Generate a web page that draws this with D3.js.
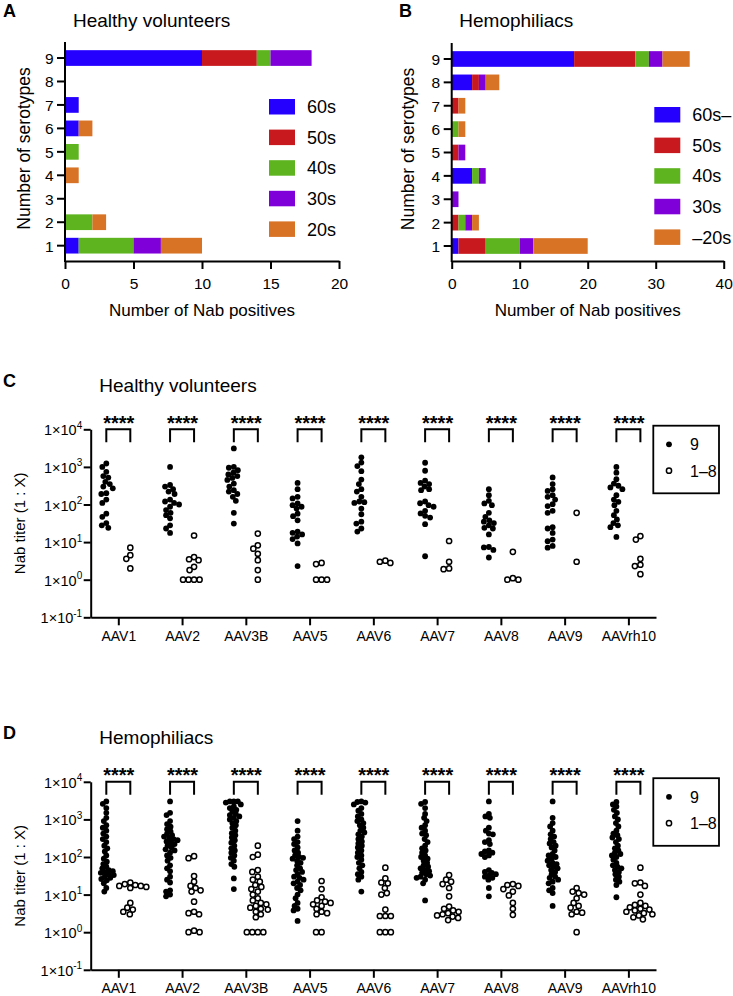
<!DOCTYPE html>
<html><head><meta charset="utf-8">
<script src="https://cdn.jsdelivr.net/npm/d3@7"></script>
<style>
body{margin:0;background:#fff;}
svg{display:block;font-family:"Liberation Sans",Arial,Helvetica,sans-serif;}
</style></head><body>
<svg id="chart" width="733" height="996"></svg>
<script>
// ---------------- DATA ----------------
const serotypeCounts = [1,2,3,4,5,6,7,8,9];
const ageKeys = ["a60","a50","a40","a30","a20"];
const ageLabelsHV = ["60s","50s","40s","30s","20s"];
const ageLabelsHM = ["60s–","50s","40s","30s","–20s"];
const ageColors = ["#2600ff","#c8191e","#5db41e","#8000da","#d87225"];
const xTicksA = [0,5,10,15,20];
const xTicksB = [0,10,20,30,40];

// Healthy volunteers: number of Nab positives by number of serotypes (index = 1..9)
const hv60s = [1,0,0,0,0,1,1,0,10];
const hv50s = [0,0,0,0,0,0,0,0,4];
const hv40s = [4,2,0,0,1,0,0,0,1];
const hv30s = [2,0,0,0,0,0,0,0,3];
const hv20s = [3,1,0,1,0,1,0,0,0];
// Hemophiliacs
const hm60s = [1,0,0,3,0,0,0,3,18];
const hm50s = [4,1,0,0,1,0,1,1,9];
const hm40s = [5,1,0,1,0,1,0,0,2];
const hm30s = [2,1,1,1,1,0,0,1,2];
const hm20s = [8,1,0,0,0,1,1,2,4];

const aavSerotypes = ["AAV1","AAV2","AAV3B","AAV5","AAV6","AAV7","AAV8","AAV9","AAVrh10"];
const titerTickExps = [-1,0,1,2,3,4];
const groupLabels = ["9","1–8"];

// Panel C: healthy volunteers, titers (1:X)
const hvNine = [
  [1230,1000,740,570,520,400,350,300,270,200,190,135,110,57,47,32,28,24],
  [1000,330,300,255,220,190,135,120,110,100,87,71,60,52,43,28,23,17.5],
  [3100,1000,950,820,700,630,570,510,450,360,300,240,220,190,160,125,60,31],
  [375,255,160,145,107,96,87,78,57,49,38,19,17.6,16,14,12,9.2,2.3],
  [1800,1300,1050,770,460,350,255,220,160,120,115,110,78,55,35,31,23,19],
  [1290,790,430,375,350,300,255,240,120,108,96,87,68,58,50,45,30,4.2],
  [255,177,125,107,96,60,47,38,35,32,28,24,23,16,7.4,7.2,6.2,3.9],
  [525,350,255,230,177,160,135,102,91,68,60,25,23,17.5,11.7,10.6,7.9,7.1],
  [1000,700,470,360,315,285,255,177,135,118,96,68,52,40,32,28,25,13.7]
];
const hvPartial = [
  [7.1,4.5,3.6,2.0],
  [15,4,3.5,3.3,2.2,1.8,1,1,1,1],
  [16.9,8.2,6.7,4.9,3.3,1.8,1],
  [2.8,2.6,1,1,1],
  [3.2,3.0,2.8],
  [10.7,3.0,2.0,1.9],
  [5.5,1.1,1,1],
  [60,3.0],
  [14.5,11.7,3.6,2.5,2.3,1.4]
];
// Panel D: hemophiliacs
const hmNine = [
  [3000,2600,2000,1500,1100,900,700,600,500,420,350,300,250,200,170,140,110,90,75,65,55,50,45,42,40,38,35,33,30,28,26,24,20,15,12],
  [3000,1500,1300,900,750,640,550,480,420,380,350,320,300,280,260,240,220,200,180,160,150,130,110,95,80,60,50,42,30,25,21,13,12,10,9],
  [3000,3000,3000,2800,2500,2200,2000,1800,1600,1400,1300,1200,1100,1000,900,800,700,600,500,430,380,330,280,240,200,170,150,130,110,95,80,65,55,27,14],
  [900,500,350,300,250,220,180,150,130,110,100,95,90,80,70,60,50,45,40,35,30,28,25,22,20,18,15,13,10,8,6,5,4.2,3.8,2],
  [3000,2900,2800,2500,2000,1700,1400,1200,1000,900,800,700,600,500,450,400,350,300,260,230,200,180,150,130,110,100,85,70,60,50,40,35,30,25,12],
  [2900,2600,2000,1400,1100,900,700,600,500,420,380,300,250,200,170,150,130,110,100,90,80,70,60,55,50,45,42,38,35,32,30,28,25,20,7],
  [3000,1400,1200,1100,600,500,420,400,280,250,220,150,140,130,120,110,100,45,40,38,35,32,30,28,25,15,9],
  [3000,1100,800,650,500,400,350,300,250,230,200,180,150,120,110,100,90,80,70,65,60,55,50,45,40,35,30,28,25,22,20,15,13,11,5],
  [2900,2500,2200,1800,1500,1200,1000,800,650,500,420,380,330,300,250,200,170,150,130,120,110,100,85,70,60,55,50,45,40,35,30,25,22,18,8.5]
];
const hmPartial = [
  [21,19,18,17,17,16,15,6,4.5,4,3.5,3],
  [105,93,31,22,17,15,13,12,6.5,3.5,3.2,3,1.1,1,1],
  [200,115,100,45,40,30,25,22,18,16,14,12,10,8,7,6,5.5,5,4.5,4.2,4,3.5,3,2.5,1,1,1,1],
  [23,14,8.5,7,6.5,6,5.5,5,4.2,3.5,3.2,3,1,1],
  [52,27,21,20,15,11,10,4,2.7,2.7,2.7,1,1,1],
  [33,25,22,19,15,9,4.8,4.2,3.8,3.5,3.2,3,2.8,2.6,2.4,2.1],
  [19,18,17,14,12,9.5,6,4.2,2.9],
  [15,12,11,10,8,6,5,4.5,3.5,3.3,3,1],
  [52,21,20,17,10,6,5.3,5,4.6,4.2,4,3.8,3.5,3.2,3,2.8,2.5,2.2]
];

// ---------------- DRAWING ----------------
const svg = d3.select("#chart");

function barPanel(cfg) {
  const g = svg.append("g");
  const rows = serotypeCounts.map((c, i) => {
    const r = {count: String(c)};
    cfg.series.forEach((s, k) => r[ageKeys[k]] = s[i]);
    return r;
  });
  const x = d3.scaleLinear().domain([0, cfg.xMax]).range([cfg.left, cfg.right]);
  const y = d3.scaleBand().domain(serotypeCounts.slice().reverse().map(String))
    .range([cfg.bandTop, cfg.bandBottom]).paddingInner(0.33).paddingOuter(0.165);
  const stacked = d3.stack().keys(ageKeys)(rows);
  stacked.forEach((layer, k) => {
    g.append("g").selectAll("rect").data(layer.filter(d => d[1] > d[0])).join("rect")
      .attr("x", d => x(d[0])).attr("width", d => x(d[1]) - x(d[0]))
      .attr("y", d => y(d.data.count)).attr("height", y.bandwidth())
      .attr("fill", ageColors[k]);
  });
  const xa = g.append("g").attr("transform", `translate(0,${cfg.axisY})`)
    .call(d3.axisBottom(x).tickValues(cfg.ticks).tickSize(8).tickSizeOuter(0));
  xa.select(".domain").attr("stroke-width", 2);
  xa.selectAll(".tick line").attr("stroke-width", 2);
  xa.selectAll(".tick text").attr("y", 27.5).attr("dy", null)
    .attr("font-size", 15.5).attr("fill", "#000").attr("font-family", null);
  const ya = g.append("g").attr("transform", `translate(${cfg.left},0)`)
    .call(d3.axisLeft(y).tickSize(8).tickSizeOuter(0));
  ya.select(".domain").remove();
  ya.selectAll(".tick line").attr("stroke-width", 2);
  ya.selectAll(".tick text").attr("x", -11.5).attr("dy", "0.38em")
    .attr("font-size", 15.5).attr("fill", "#000").attr("font-family", null);
  g.append("line").attr("x1", cfg.left).attr("x2", cfg.left)
    .attr("y1", cfg.axisTop).attr("y2", cfg.axisY + 1)
    .attr("stroke", "#000").attr("stroke-width", 2);
  g.append("text").attr("x", (cfg.left + cfg.right) / 2).attr("y", 315.5)
    .attr("text-anchor", "middle").attr("font-size", 17).text("Number of Nab positives");
  g.append("text").attr("transform", `translate(${cfg.yTitleX},${(cfg.axisTop + cfg.axisY) / 2 - 3}) rotate(-90)`)
    .attr("text-anchor", "middle").attr("font-size", 17.5).text("Number of serotypes");
  g.append("text").attr("x", cfg.titleX).attr("y", 26.5).attr("font-size", 19).text(cfg.title);
  g.append("text").attr("x", cfg.letterX).attr("y", 16.7).attr("font-size", 18)
    .attr("font-weight", "bold").text(cfg.letter);
  cfg.labels.forEach((lab, k) => {
    const top = cfg.legTop + k * 30.6;
    g.append("rect").attr("x", cfg.legX).attr("y", top).attr("width", 26).attr("height", 15.5)
      .attr("fill", ageColors[k]);
    g.append("text").attr("x", cfg.legX + 38).attr("y", top + 14.2).attr("font-size", 18).text(lab);
  });
}

barPanel({series: [hv60s, hv50s, hv40s, hv30s, hv20s], xMax: 20, ticks: xTicksA,
  left: 65, right: 339, bandTop: 46.3, bandBottom: 257.4, axisY: 261, axisTop: 42,
  yTitleX: 30, title: "Healthy volunteers", titleX: 73, letter: "A", letterX: 3,
  labels: ageLabelsHV, legX: 269, legTop: 99});
barPanel({series: [hm60s, hm50s, hm40s, hm30s, hm20s], xMax: 40, ticks: xTicksB,
  left: 451.7, right: 723.7, bandTop: 47.3, bandBottom: 257.7, axisY: 261, axisTop: 43,
  yTitleX: 413.5, title: "Hemophiliacs", titleX: 459.3, letter: "B", letterX: 399,
  labels: ageLabelsHM, legX: 654.3, legTop: 107});

// deterministic beeswarm layout (allows partial overlap like the original)
function swarm(values, yScale, cx, diam) {
  const pts = values.map(v => ({v, y: yScale(v)})).sort((a, b) => a.y - b.y);
  const placed = [];
  pts.forEach(p => {
    let px = cx;
    for (let k = 0; k < 400; k++) {
      const off = (k % 2 === 0 ? 1 : -1) * Math.ceil(k / 2) * 0.5;
      const xx = cx + off;
      if (placed.every(q => (q.x - xx) ** 2 + (q.y - p.y) ** 2 >= diam * diam)) { px = xx; break; }
    }
    p.x = px;
    placed.push(p);
  });
  return pts;
}

function dotPanel(off, nine, partial, title, letter, nineDiam) {
  const yTop = 429.3 + off, yBot = 617.3 + off;
  const g = svg.append("g");
  const y = d3.scaleLog().domain([0.1, 1e4]).range([yBot, yTop]);
  const x = d3.scalePoint().domain(aavSerotypes).range([90.7, 656]).padding(0.433);
  const ya = g.append("g").attr("transform", "translate(90.7,0)")
    .call(d3.axisLeft(y).tickValues(titerTickExps.map(e => Math.pow(10, e)))
      .tickSize(7).tickSizeOuter(0).tickFormat(() => ""));
  ya.select(".domain").attr("stroke-width", 2);
  ya.selectAll(".tick line").attr("stroke-width", 2);
  ya.selectAll(".tick").each(function(d, i) {
    const t = d3.select(this).select("text").attr("x", -8.5).attr("dy", null).attr("y", 5.5)
      .attr("font-size", 14.5).attr("fill", "#000").attr("font-family", null).text(null);
    t.append("tspan").text("1×10");
    t.append("tspan").attr("dy", -6.5).attr("font-size", 10).text(String(titerTickExps[i]));
  });
  const xa = g.append("g").attr("transform", `translate(0,${yBot})`)
    .call(d3.axisBottom(x).tickSize(8).tickSizeOuter(0));
  xa.select(".domain").attr("stroke-width", 2);
  xa.selectAll(".tick line").attr("stroke-width", 2);
  xa.selectAll(".tick text").attr("y", 23.5).attr("dy", null)
    .attr("font-size", 14).attr("fill", "#000").attr("font-family", null);
  aavSerotypes.forEach((s, i) => {
    const cx = x(s);
    swarm(nine[i], y, cx - 12, nineDiam).forEach(p => {
      g.append("circle").attr("cx", p.x).attr("cy", p.y).attr("r", 2.9).attr("fill", "#000");
    });
    swarm(partial[i], y, cx + 12, 5.4).forEach(p => {
      g.append("circle").attr("cx", p.x).attr("cy", p.y).attr("r", 2.6)
        .attr("fill", "#fff").attr("stroke", "#000").attr("stroke-width", 1.5);
    });
    g.append("path").attr("d", `M${cx - 12},${yTop + 13}V${yTop}H${cx + 12}V${yTop + 13}`)
      .attr("fill", "none").attr("stroke", "#000").attr("stroke-width", 2);
    g.append("text").attr("x", cx + 0.5).attr("y", yTop + 0.5).attr("text-anchor", "middle")
      .attr("font-size", 20).attr("font-weight", "bold").text("****");
  });
  g.append("text").attr("transform", `translate(24.5,${(yTop + yBot) / 2}) rotate(-90)`)
    .attr("text-anchor", "middle").attr("font-size", 15).text("Nab titer (1 : X)");
  g.append("text").attr("x", 99.3).attr("y", 391.7 + off).attr("font-size", 19).text(title);
  g.append("text").attr("x", 3).attr("y", 386.7 + off).attr("font-size", 18)
    .attr("font-weight", "bold").text(letter);
  g.append("rect").attr("x", 653.3).attr("y", 425.7 + off).attr("width", 65.7).attr("height", 67.6)
    .attr("fill", "none").attr("stroke", "#000").attr("stroke-width", 1.8);
  g.append("circle").attr("cx", 669).attr("cy", 444.3 + off).attr("r", 2.9).attr("fill", "#000");
  g.append("circle").attr("cx", 669).attr("cy", 470.7 + off).attr("r", 2.6)
    .attr("fill", "#fff").attr("stroke", "#000").attr("stroke-width", 1.5);
  groupLabels.forEach((lab, k) => {
    g.append("text").attr("x", 690).attr("y", (k === 0 ? 444.3 : 470.7) + off + 6)
      .attr("font-size", 16).text(lab);
  });
}

dotPanel(0, hvNine, hvPartial, "Healthy volunteers", "C", 5.0);
dotPanel(352.5, hmNine, hmPartial, "Hemophiliacs", "D", 4.0);
</script>
</body></html>
